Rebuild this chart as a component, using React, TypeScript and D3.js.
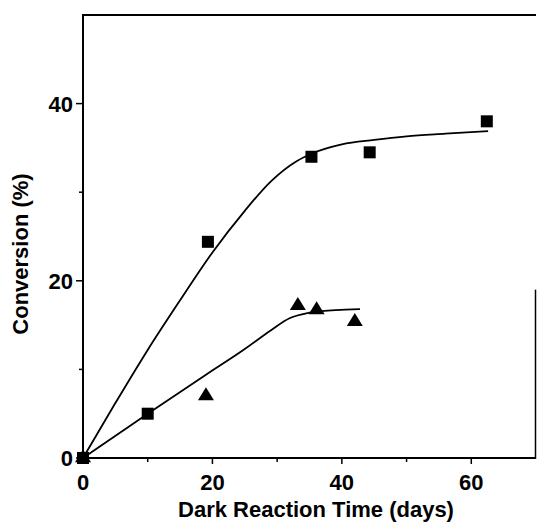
import React from "react";
import * as d3 from "d3";

// Measured conversion vs. dark reaction time
const squareDays = [0, 10, 19.3, 35.3, 44.3, 62.4];
const squareConv = [0, 5.0, 24.4, 34.0, 34.5, 38.0];
const triangleDays = [0, 19.0, 33.2, 36.1, 42.0];
const triangleConv = [0, 7.0, 17.2, 16.7, 15.4];

// Smooth guide curves drawn through the data
const upperFitDays = [0, 5, 10, 15, 20, 25, 29, 33, 35.5, 40, 45, 50, 56, 62.6];
const upperFitConv = [0, 6.2, 12.2, 17.8, 23.2, 27.9, 31.2, 33.5, 34.4, 35.4, 35.9, 36.3, 36.6, 36.9];
const lowerFitDays = [0, 10, 19, 25, 29, 32, 35, 39, 42.8];
const lowerFitConv = [0, 5.0, 9.4, 12.3, 14.4, 15.8, 16.4, 16.7, 16.8];

const xMajor = [0, 20, 40, 60];
const xMinor = [10, 30, 50];
const yMajor = [0, 20, 40];
const yMinor = [10, 30];

const W = 537;
const H = 523;
const left = 83;
const right = 536;
const top = 15;
const bottom = 458;

const font = "'Liberation Sans', Arial, Helvetica, sans-serif";
const fs = 22;

export default function App() {
  const x = d3.scaleLinear().domain([0, 70]).range([left, right]);
  const y = d3.scaleLinear().domain([0, 50]).range([bottom, top]);

  const line = d3
    .line<[number, number]>()
    .x((d) => x(d[0]))
    .y((d) => y(d[1]))
    .curve(d3.curveMonotoneX);

  const upper = line(upperFitDays.map((d, i) => [d, upperFitConv[i]]) as [number, number][]) || "";
  const lower = line(lowerFitDays.map((d, i) => [d, lowerFitConv[i]]) as [number, number][]) || "";

  const sq = 12;
  const triW = 16;
  const triH = 13;

  return (
    <svg
      width={W}
      height={H}
      style={{ position: "absolute", left: 0, top: 0, background: "#fff" }}
    >
      <rect x={0} y={0} width={W} height={H} fill="#fff" />

      {/* frame */}
      <line x1={x(0)} x2={x(0)} y1={top} y2={bottom + 1} stroke="#000" strokeWidth={2} />
      <line x1={x(0) - 1} x2={right} y1={bottom} y2={bottom} stroke="#000" strokeWidth={2} />
      <line x1={x(0) - 1} x2={right} y1={top} y2={top} stroke="#000" strokeWidth={2} />
      <line x1={right - 0.5} x2={right - 0.5} y1={y(19)} y2={bottom + 1} stroke="#000" strokeWidth={1.5} />

      {/* x ticks */}
      {xMajor.map((v) => (
        <g key={"xm" + v}>
          <line x1={x(v)} x2={x(v)} y1={bottom} y2={bottom + 6} stroke="#000" strokeWidth={1.5} />
          <text
            x={x(v)}
            y={bottom + 32}
            textAnchor="middle"
            fontFamily={font}
            fontWeight="bold"
            fontSize={fs}
          >
            {v}
          </text>
        </g>
      ))}
      {xMinor.map((v) => (
        <line key={"xn" + v} x1={x(v)} x2={x(v)} y1={bottom} y2={bottom + 4} stroke="#000" strokeWidth={1.5} />
      ))}

      {/* y ticks */}
      {yMajor.map((v) => (
        <g key={"ym" + v}>
          <line x1={left - 7} x2={left} y1={y(v)} y2={y(v)} stroke="#000" strokeWidth={1.5} />
          <text
            x={left - 10}
            y={y(v) + 8}
            textAnchor="end"
            fontFamily={font}
            fontWeight="bold"
            fontSize={fs}
          >
            {v}
          </text>
        </g>
      ))}
      {yMinor.map((v) => (
        <line key={"yn" + v} x1={left - 4} x2={left} y1={y(v)} y2={y(v)} stroke="#000" strokeWidth={1.5} />
      ))}

      {/* axis titles */}
      <text
        x={316}
        y={517}
        textAnchor="middle"
        fontFamily={font}
        fontWeight="bold"
        fontSize={fs}
      >
        Dark Reaction Time (days)
      </text>
      <text
        transform={`translate(28, ${254}) rotate(-90)`}
        textAnchor="middle"
        fontFamily={font}
        fontWeight="bold"
        fontSize={fs}
      >
        Conversion (%)
      </text>

      {/* fit curves */}
      <path d={upper} fill="none" stroke="#000" strokeWidth={1.8} />
      <path d={lower} fill="none" stroke="#000" strokeWidth={1.8} />

      {/* square markers */}
      {squareDays.map((d, i) => (
        <rect
          key={"s" + i}
          x={x(d) - sq / 2}
          y={y(squareConv[i]) - sq / 2}
          width={sq}
          height={sq}
          fill="#000"
        />
      ))}

      {/* triangle markers */}
      {triangleDays.map((d, i) => {
        const cx = x(d);
        const cy = y(triangleConv[i]);
        const pts = [
          [cx, cy - (triH * 2) / 3],
          [cx - triW / 2, cy + triH / 3],
          [cx + triW / 2, cy + triH / 3],
        ]
          .map((p) => p.join(","))
          .join(" ");
        return <polygon key={"t" + i} points={pts} fill="#000" />;
      })}
    </svg>
  );
}
